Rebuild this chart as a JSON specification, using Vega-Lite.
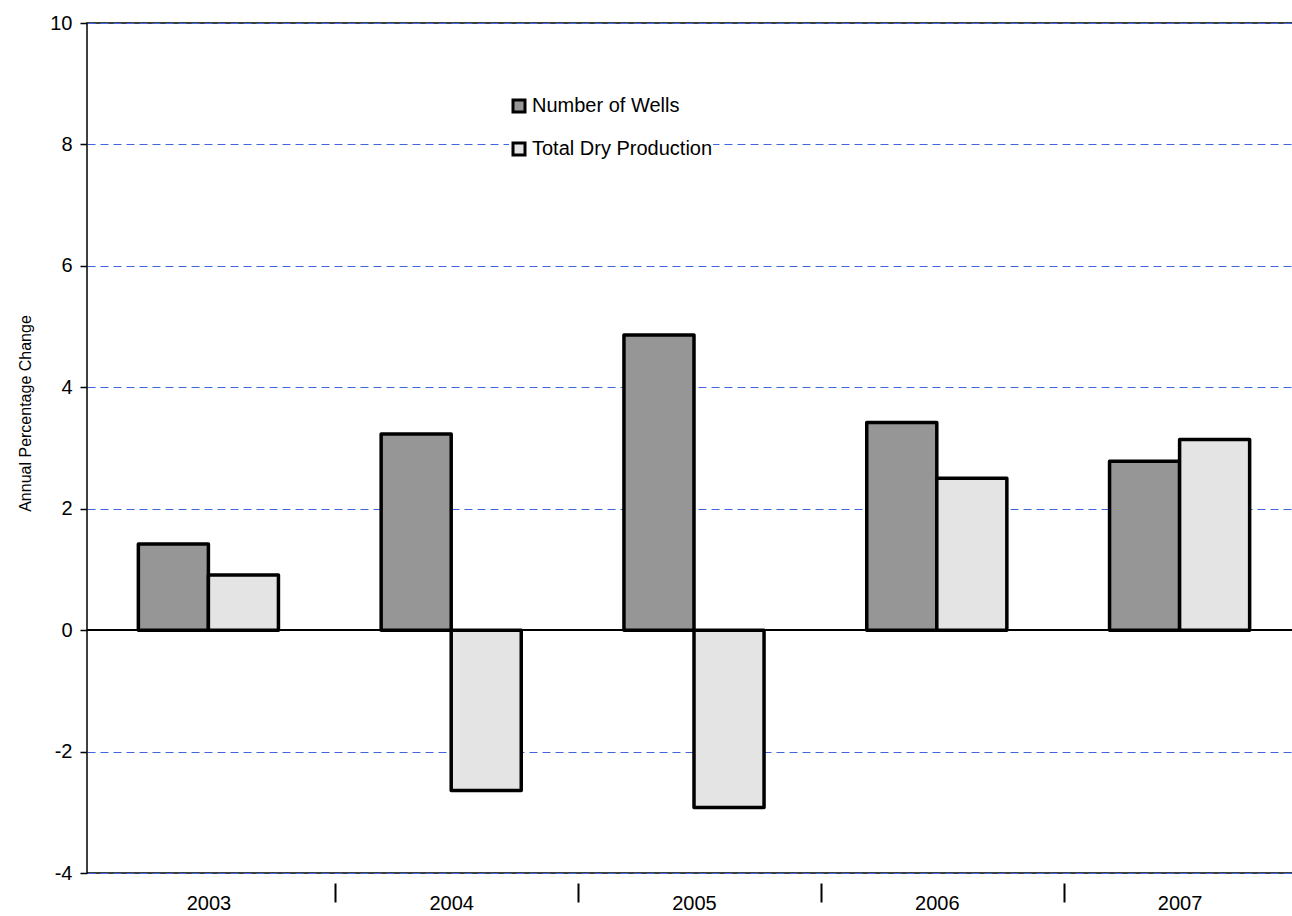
{
  "$schema": "https://vega.github.io/schema/vega-lite/v6.json",
  "width": 1214,
  "height": 850,
  "autosize": {"type": "none"},
  "padding": {"left": 87, "top": 23, "right": 0, "bottom": 43},
  "background": "white",
  "config": {
    "view": {"stroke": "black", "strokeWidth": 1.5},
    "font": "Liberation Sans"
  },
  "data": {
    "values": [
      {"year": "2003", "series": "Number of Wells", "value": 1.42},
      {"year": "2003", "series": "Total Dry Production", "value": 0.91},
      {"year": "2004", "series": "Number of Wells", "value": 3.23},
      {"year": "2004", "series": "Total Dry Production", "value": -2.64},
      {"year": "2005", "series": "Number of Wells", "value": 4.86},
      {"year": "2005", "series": "Total Dry Production", "value": -2.92},
      {"year": "2006", "series": "Number of Wells", "value": 3.42},
      {"year": "2006", "series": "Total Dry Production", "value": 2.5},
      {"year": "2007", "series": "Number of Wells", "value": 2.78},
      {"year": "2007", "series": "Total Dry Production", "value": 3.14}
    ]
  },
  "layer": [
    {
      "mark": {"type": "rule", "color": "black", "strokeWidth": 1.2},
      "encoding": {"y": {"datum": 0, "type": "quantitative"}}
    },
    {
      "mark": {"type": "bar", "stroke": "black", "strokeWidth": 3.5, "strokeJoin": "round"},
      "encoding": {
        "x": {
          "field": "year",
          "type": "nominal",
          "scale": {"paddingInner": 0.423, "paddingOuter": 0.2115},
          "axis": {
            "title": null,
            "domain": false,
            "labelAngle": 0,
            "labelFontSize": 20,
            "labelColor": "black",
            "labelPadding": -8.5,
            "tickOffset": 127,
            "labelOffset": -127,
            "tickSize": 29,
            "tickWidth": 2,
            "tickColor": "black",
            "tickDash": [0, 10, 19, 100],
            "grid": false
          }
        },
        "xOffset": {"field": "series", "type": "nominal"},
        "y": {
          "field": "value",
          "type": "quantitative",
          "scale": {"domain": [-4, 10], "nice": false, "zero": false},
          "axis": {
            "title": "Annual Percentage Change",
            "titleFontSize": 16,
            "titleFontWeight": "normal",
            "titleColor": "black",
            "titleX": -54,
            "titleY": 390,
            "titleBaseline": "bottom",
            "titleAngle": -90,
            "titleAlign": "center",
            "values": [-4, -2, 0, 2, 4, 6, 8, 10],
            "labelExpr": "'' + datum.value",
            "domain": false,
            "labelFontSize": 20,
            "labelColor": "black",
            "labelPadding": 8,
            "tickSize": 7,
            "tickWidth": 1.5,
            "tickColor": "black",
            "grid": true,
            "gridColor": "#3f66dc",
            "gridDash": [8, 5],
            "gridWidth": 1
          }
        },
        "fill": {
          "field": "series",
          "type": "nominal",
          "scale": {
            "domain": ["Number of Wells", "Total Dry Production"],
            "range": ["#969696", "#e4e4e4"]
          },
          "legend": {
            "title": null,
            "orient": "none",
            "legendX": 422,
            "legendY": 73,
            "padding": 0,
            "symbolType": "square",
            "symbolSize": 144,
            "symbolStrokeColor": "black",
            "symbolStrokeWidth": 3,
            "labelFontSize": 20,
            "labelColor": "black",
            "labelOffset": 3,
            "labelLimit": 400,
            "rowPadding": 19,
            "fillColor": "white"
          }
        }
      }
    }
  ]
}
